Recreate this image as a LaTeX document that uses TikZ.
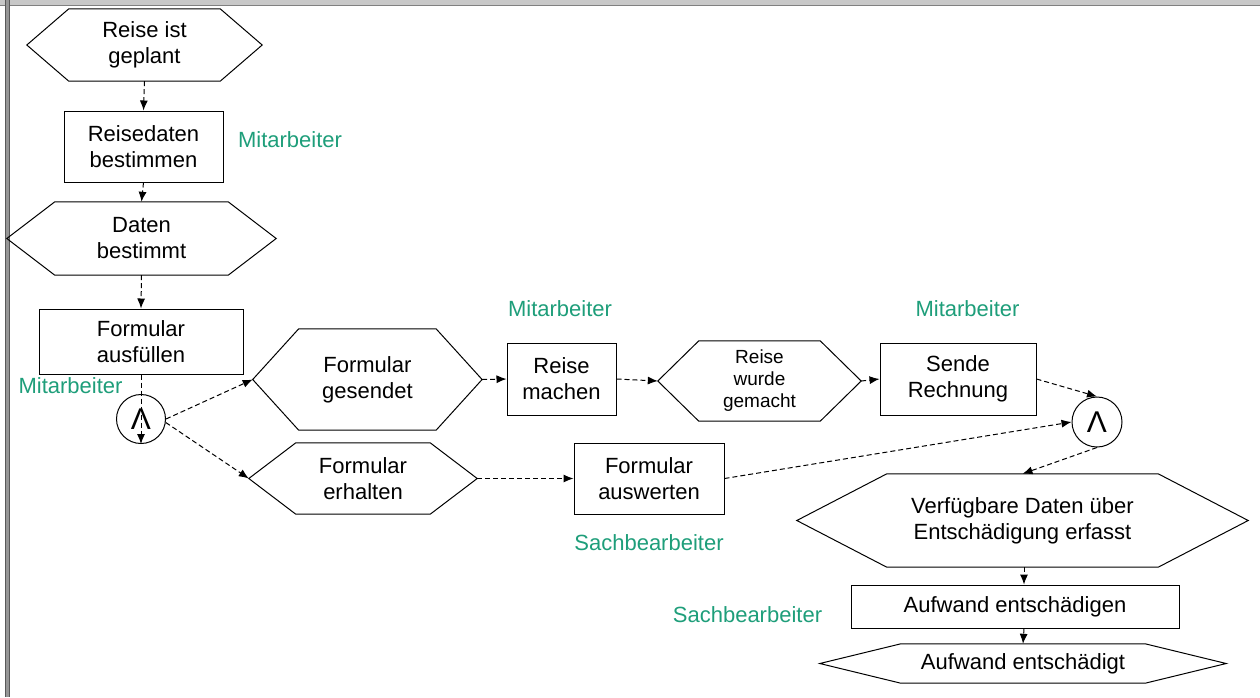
\documentclass[tikz,border=0pt]{standalone}
\usepackage{fontspec}
\setmainfont{Liberation Sans}
\usetikzlibrary{arrows.meta}
\definecolor{lanegreen}{RGB}{30,158,122}
\definecolor{framegray}{RGB}{200,200,200}
\definecolor{sidegray}{RGB}{150,150,150}
\newcommand\hexa[2]{\draw[shapeline] (#1.west) -- ([xshift=#2pt]#1.north west) -- ([xshift=-#2pt]#1.north east) -- (#1.east) -- ([xshift=-#2pt]#1.south east) -- ([xshift=#2pt]#1.south west) -- cycle;}
\begin{document}
\begin{tikzpicture}[x=1pt,y=-1pt,
  shapeline/.style={line width=1pt, line join=miter},
  txt/.style={inner sep=0pt, align=center, font=\fontsize{22}{26}\selectfont},
  smalltxt/.style={inner sep=0pt, align=center, font=\fontsize{19}{22}\selectfont},
  boxnode/.style={txt, draw, line width=1pt},
  andgate/.style={circle, draw, line width=1pt, inner sep=0pt, minimum size=50pt, font=\fontsize{30}{30}\selectfont},
  role/.style={inner sep=0pt, text=lanegreen, font=\fontsize{22}{26}\selectfont},
  flow/.style={dashed, dash pattern=on 5pt off 3pt, line width=1pt, -{Latex[length=10pt,width=8pt]}}
]
\useasboundingbox (0,0) rectangle (1260,697);
\fill[white] (0,0) rectangle (1260,697);
% window frame
\fill[framegray] (0,0) rectangle (1260,5);
\draw[gray, line width=0.8pt] (0,5) -- (1260,5);
\fill[sidegray] (5,0) rectangle (10,697);
\draw[gray!70!black, line width=0.6pt] (5.3,0) -- (5.3,697) (9.7,0) -- (9.7,697);

% nodes
\node[txt, minimum width=235pt, minimum height=72pt] (h1) at (144.5,45) {Reise ist\\geplant};
\hexa{h1}{42}
\node[boxnode, minimum width=159pt, minimum height=71pt] (r1) at (143.5,146.5) {Reisedaten\\bestimmen};
\node[txt, minimum width=269pt, minimum height=73pt] (h2) at (141.5,238.5) {Daten\\bestimmt};
\hexa{h2}{48}
\node[boxnode, minimum width=204pt, minimum height=65pt] (r2) at (141,341.5) {Formular\\ausfüllen};
\node[andgate, minimum size=49pt] (and1) at (141,419) {Λ};
\node[txt, minimum width=229pt, minimum height=101pt] (h3) at (367.4,379.5) {Formular\\gesendet};
\hexa{h3}{46}
\node[boxnode, minimum width=109pt, minimum height=72pt] (r3) at (561.5,379) {Reise\\machen};
\node[smalltxt, minimum width=203pt, minimum height=80pt] (h4) at (759.5,381) {Reise\\wurde\\gemacht};
\hexa{h4}{41}
\node[boxnode, minimum width=156pt, minimum height=72pt] (r4) at (958,379) {Sende\\Rechnung};
\node[andgate] (and2) at (1097,422) {Λ};
\node[txt, minimum width=228pt, minimum height=71pt] (h5) at (363,478.5) {Formular\\erhalten};
\hexa{h5}{47}
\node[boxnode, minimum width=150pt, minimum height=71pt] (r5) at (649,478.5) {Formular\\auswerten};
\node[txt, minimum width=451pt, minimum height=93pt] (h6) at (1022.5,520.5) {Verfügbare Daten über\\Entschädigung erfasst};
\hexa{h6}{90}
\node[boxnode, minimum width=328pt, minimum height=43pt] (r6) at (1015,606.5) {Aufwand entschädigen};
\node[txt, minimum width=406pt, minimum height=39pt] (h7) at (1023,663.5) {Aufwand entschädigt};
\hexa{h7}{81}

% roles
\node[role] (m1) at (290,140) {Mitarbeiter};
\node[role] (m2) at (70.5,386) {Mitarbeiter};
\node[role] (m3) at (560,309) {Mitarbeiter};
\node[role] (m4) at (967.5,309) {Mitarbeiter};
\node[role] (s1) at (649,543) {Sachbearbeiter};
\node[role] (s2) at (747.5,615) {Sachbearbeiter};

% connectors
\draw[flow] (h1.south) -- (r1.north);
\draw[flow] (r1.south) -- (h2.north);
\draw[flow] (h2.south) -- (r2.north);
\draw[flow] (r2.south) -- (and1.south);
\draw[flow] (and1.east) -- (h3.west);
\draw[flow] (and1.-8) -- (h5.west);
\draw[flow] (h3.east) -- (r3.west);
\draw[flow] (r3.east) -- (h4.west);
\draw[flow] (h4.east) -- (r4.west);
\draw[flow] (h5.east) -- (r5.west);
\draw[flow] (r4.east) -- (and2.north);
\draw[flow] (r5.east) -- (and2.west);
\draw[flow] (and2.south) -- (h6.north);
\coordinate (c1) at ([xshift=1.5pt]h6.south);
\draw[flow] (c1) -- (c1 |- r6.north);
\coordinate (c2) at (c1 |- r6.south);
\draw[flow] (c2) -- (h7.north);
\end{tikzpicture}
\end{document}
